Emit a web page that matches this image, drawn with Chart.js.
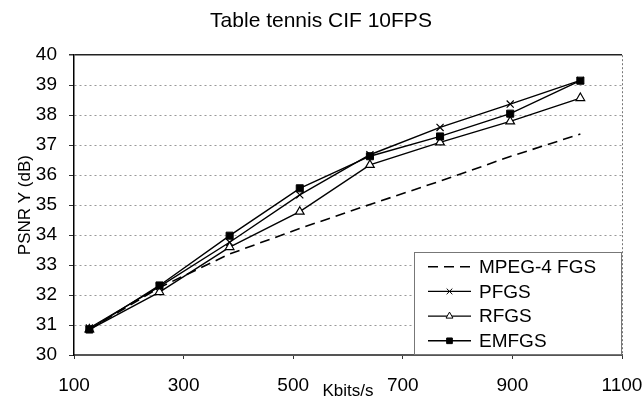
<!DOCTYPE html>
<html>
<head>
<meta charset="utf-8">
<title>Table tennis CIF 10FPS</title>
<script src="https://cdn.jsdelivr.net/npm/chart.js@4.4.1/dist/chart.umd.min.js"></script>
<style>
  html, body { margin: 0; padding: 0; background: #fff; }
  #psnrChart { display: block; }
</style>
</head>
<body>
<canvas id="psnrChart" width="642" height="400"></canvas>
<script>
// bit rate (kbit/s) of each measured point
var rates = [128, 256, 384, 512, 640, 768, 896, 1024];

// PSNR Y (dB) per scheme
var psnrMpeg4Fgs = [30.85, 32.25, 33.37, 34.22, 35.02, 35.80, 36.62, 37.37];
var psnrPfgs     = [30.90, 32.28, 33.76, 35.34, 36.68, 37.59, 38.37, 39.16];
var psnrRfgs     = [30.85, 32.10, 33.60, 34.78, 36.34, 37.09, 37.79, 38.57];
var psnrEmfgs    = [30.85, 32.32, 33.98, 35.56, 36.63, 37.29, 38.05, 39.15];

var rateTicks = [100, 300, 500, 700, 900, 1100];
var psnrTicks = [30, 31, 32, 33, 34, 35, 36, 37, 38, 39, 40];

var fontFamily = "'Liberation Sans', Arial, sans-serif";
Chart.defaults.font.family = fontFamily;
Chart.defaults.color = '#000';

function toPoints(values) {
	return rates.map(function (r, i) { return { x: r, y: values[i] }; });
}

function setTicks(list) {
	return function (scale) {
		scale.ticks = list.map(function (v) { return { value: v }; });
	};
}

function plainLabel(value) {
	return String(value);
}

// boxed legend sitting in the lower right corner of the plot
var cornerLegend = {
	id: 'cornerLegend',
	afterDraw: function (chart) {
		var ctx = chart.ctx, area = chart.chartArea;
		var w = 208, h = 103, rowH = 24.7;
		var left = area.right - w, top = area.bottom - h;
		ctx.save();
		ctx.fillStyle = '#fff';
		ctx.fillRect(left, top, w, h);
		ctx.strokeStyle = '#777';
		ctx.lineWidth = 1;
		ctx.strokeRect(left + 0.5, top + 0.5, w - 1, h - 1);
		ctx.font = '19px ' + fontFamily;
		ctx.textBaseline = 'middle';
		chart.data.datasets.forEach(function (ds, i) {
			var y = top + 14.7 + i * rowH;
			ctx.strokeStyle = '#000';
			ctx.lineWidth = ds.borderWidth;
			ctx.setLineDash(ds.borderDash || []);
			ctx.beginPath();
			ctx.moveTo(left + 14, y);
			ctx.lineTo(left + 57, y);
			ctx.stroke();
			ctx.setLineDash([]);
			if (ds.pointRadius > 0) {
				ctx.fillStyle = ds.pointBackgroundColor;
				ctx.strokeStyle = ds.pointBorderColor;
				ctx.lineWidth = 1;
				Chart.helpers.drawPoint(ctx, { pointStyle: ds.pointStyle, radius: ds.pointRadius * 0.8, borderWidth: 1, rotation: 0 }, left + 35.5, y);
			}
			ctx.fillStyle = '#000';
			ctx.fillText(ds.label, left + 65, y + 1);
		});
		ctx.restore();
	}
};

var psnrChart = new Chart(document.getElementById('psnrChart').getContext('2d'), {
	type: 'line',
	data: {
		datasets: [{
			label: 'MPEG-4 FGS',
			data: toPoints(psnrMpeg4Fgs),
			borderColor: '#000',
			borderWidth: 1.6,
			borderDash: [10, 6],
			pointRadius: 0,
			order: 3
		}, {
			label: 'PFGS',
			data: toPoints(psnrPfgs),
			borderColor: '#000',
			borderWidth: 1.4,
			pointStyle: 'crossRot',
			pointRadius: 5,
			pointBorderWidth: 1.2,
			pointBackgroundColor: '#000',
			pointBorderColor: '#000',
			order: 2
		}, {
			label: 'RFGS',
			data: toPoints(psnrRfgs),
			borderColor: '#000',
			borderWidth: 1.4,
			pointStyle: 'triangle',
			pointRadius: 5,
			pointBorderWidth: 1.2,
			pointBackgroundColor: '#fff',
			pointBorderColor: '#000',
			order: 1
		}, {
			label: 'EMFGS',
			data: toPoints(psnrEmfgs),
			borderColor: '#000',
			borderWidth: 1.4,
			pointStyle: 'rect',
			pointRadius: 5,
			pointBorderWidth: 1,
			pointBackgroundColor: '#000',
			pointBorderColor: '#000',
			order: 0
		}]
	},
	options: {
		responsive: false,
		animation: false,
		layout: { padding: 0 },
		elements: { line: { tension: 0, fill: false } },
		plugins: {
			legend: { display: false },
			tooltip: { enabled: false },
			title: {
				display: true,
				text: 'Table tennis CIF 10FPS',
				color: '#000',
				font: { size: 21, weight: 'normal' },
				padding: { top: 9, bottom: 21 }
			}
		},
		scales: {
			x: {
				type: 'linear',
				min: 100,
				max: 1100,
				afterBuildTicks: setTicks(rateTicks),
				afterFit: function (scale) {
					scale.height = 45;
					// let the last label run to the canvas edge
					scale.paddingRight = 20;
				},
				ticks: { font: { size: 19 }, color: '#000', padding: 15, maxRotation: 0, callback: plainLabel },
				grid: {
					color: function (c) { return c.tick && c.tick.value === 1100 ? '#777' : 'rgba(0,0,0,0)'; },
					lineWidth: 1,
					tickColor: '#333',
					tickLength: 4
				},
				border: { display: true, color: '#555', width: 2, dash: [2, 2] },
				title: {
					display: true,
					text: 'Kbits/s',
					font: { size: 17, lineHeight: 1 },
					padding: { top: 0, bottom: 0 }
				}
			},
			y: {
				min: 30,
				max: 40,
				afterBuildTicks: setTicks(psnrTicks),
				afterFit: function (scale) { scale.width = 74; },
				ticks: { font: { size: 19 }, color: '#000', padding: 12, callback: plainLabel },
				grid: {
					color: function (c) {
						if (!c.tick) return '#999';
						if (c.tick.value === 40) return '#222';
						if (c.tick.value === 30) return 'rgba(0,0,0,0)';
						return '#999';
					},
					lineWidth: function (c) { return c.tick && c.tick.value === 40 ? 1.5 : 1; },
					tickColor: '#333',
					tickLength: 5
				},
				border: {
					display: true,
					color: '#000',
					width: 1.5,
					dash: function (c) { return c.tick && c.tick.value === 40 ? [] : [2, 3]; }
				},
				title: {
					display: true,
					text: 'PSNR Y (dB)',
					font: { size: 17 },
					padding: { top: 15, bottom: 0 }
				}
			}
		}
	},
	plugins: [cornerLegend]
});
</script>
</body>
</html>
